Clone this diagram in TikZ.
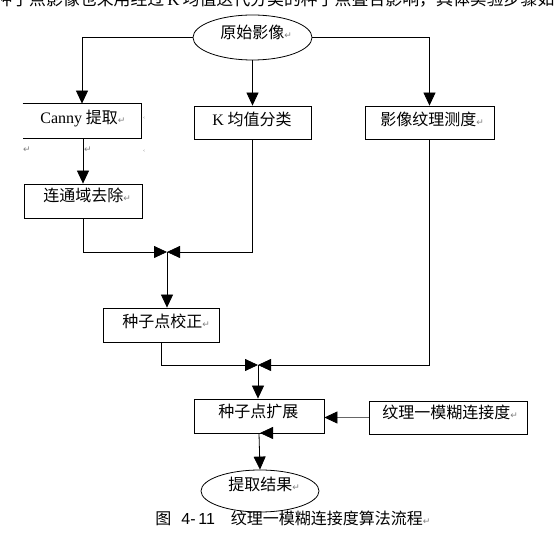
\documentclass[tikz,border=0pt]{standalone}
\usepackage{fontspec}
\setmainfont{Noto Sans CJK SC}
\newfontfamily\tnr{Liberation Serif}
\newfontfamily\ari{Liberation Sans}
\newfontfamily\symf{DejaVu Sans}
\usetikzlibrary{arrows.meta,shapes.geometric}
\newcommand{\retmark}{{\symf\fontsize{9}{9}\selectfont\textcolor{gray}{↵}}}
\begin{document}
\begin{tikzpicture}[x=1pt,y=-1pt,
  line width=0.8pt,
  >={Triangle[length=13pt,width=12pt]},
  box/.style={draw, rectangle, inner sep=0pt},
  ell/.style={draw, ellipse, inner sep=0pt},
  txt/.style={inner sep=0pt, anchor=base west, font=\fontsize{16}{18}\selectfont},
  pmark/.style={inner sep=0pt, font=\symf\fontsize{9}{9}\selectfont, text=gray}]
\useasboundingbox (0,0) rectangle (558,540);
\clip (0,0) rectangle (558,540);

% clipped running text at the top
\node[txt, font=\fontsize{16.9}{18}\selectfont] (intro) at (-5,6)
  {种子点影像也采用经过\hspace{3pt}{\tnr K}\hspace{3pt}均值迭代分类的种子点叠合影响，具体实验步骤如};

% shapes
\node[ell, minimum width=119pt, minimum height=45pt] (src) at (252.5,37.5) {};
\node[inner sep=0pt, minimum width=118pt, minimum height=34pt] (canny) at (82,121) {};
\draw (canny.north west) -- (canny.north east) -- (canny.south east) -- (canny.south west);
\node[box, minimum width=117pt, minimum height=33pt] (kmeans) at (252.5,122.5) {};
\node[box, minimum width=129pt, minimum height=33pt] (texm) at (429.5,122.5) {};
\node[box, minimum width=118pt, minimum height=34pt] (ccr) at (83,201) {};
\node[box, minimum width=116pt, minimum height=34pt] (seed) at (161,325) {};
\node[box, minimum width=130pt, minimum height=34pt] (grow) at (259,416) {};
\node[box, minimum width=158pt, minimum height=33pt] (fuzzy) at (448,417.5) {};
\node[ell, minimum width=118pt, minimum height=42pt] (res) at (260,491) {};

% texts
\node[txt] (tsrc) at (220,39) {原始影像\retmark};
\node[txt] (tcanny) at (40,124) {{\tnr Canny} 提取\retmark};
\node[txt] (tkm) at (212,126) {{\tnr K} 均值分类};
\node[txt] (ttex) at (380,126) {影像纹理测度\retmark};
\node[txt] (tccr) at (43,202) {连通域去除\retmark};
\node[txt] (tseed) at (122,328) {种子点校正\retmark};
\node[txt] (tgrow) at (218,418) {种子点扩展};
\node[txt] (tfuzzy) at (382,419) {纹理一模糊连接度\retmark};
\node[txt] (tres) at (228,491) {提取结果\retmark};
\node[txt] (cap) at (155,525) {图\hspace{10pt}{\ari 4-\,11}\hspace{16pt}纹理一模糊连接度算法流程\retmark};

% stray paragraph marks
\node[pmark] (m1a) at (27,150) {↵};
\node[pmark] (m1b) at (88,150) {↵};
\node[pmark, font=\symf\fontsize{5}{5}\selectfont] (m1c) at (144,118) {‹};
\node[pmark, font=\symf\fontsize{5}{5}\selectfont] (m1d) at (144,151) {‹};

% connectors
\draw[->] (src.west) -| (canny.north);
\draw[->] (src.south) -- (kmeans.north);
\draw[->] (src.east) -| (texm.north);
\draw[->] (canny.south -| ccr.north) -- (ccr.north);

\coordinate (j1) at (167,252);
\draw[->] (ccr.south) |- (j1);
\draw[->] (kmeans.south) |- (j1);
\draw[->] (j1) -- (j1 |- seed.north);

\coordinate (j2) at (258,365);
\draw[->] (seed.south) |- (j2);
\draw[->] (texm.south) |- (j2);
\draw[->] (j2) -- (j2 |- grow.north);

\draw[-{Triangle[length=13pt,width=12pt,color=black]}, draw=gray!80!black] (fuzzy.west) -- (grow.east |- fuzzy.west);
\draw[->] (grow.south) -- (res.north);
\coordinate (gt0) at (274,433);
\coordinate (gt1) at (260,433);
\draw[->] (gt0) -- (gt1);
\end{tikzpicture}
\end{document}
